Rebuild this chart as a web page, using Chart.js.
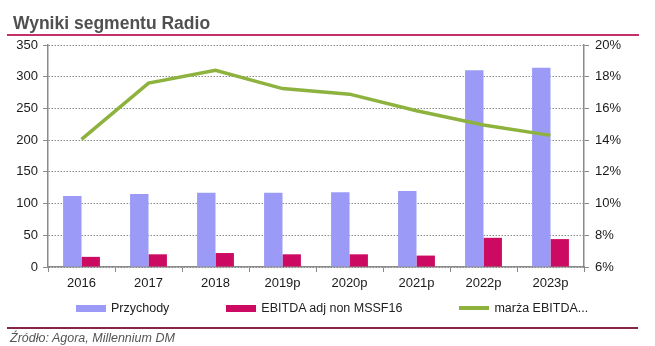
<!DOCTYPE html>
<html lang="pl">
<head>
<meta charset="utf-8">
<title>Wyniki segmentu Radio</title>
<script src="https://cdn.jsdelivr.net/npm/chart.js@4/dist/chart.umd.min.js"></script>
<style>
  html, body { margin: 0; padding: 0; background: #fff; }
  body { width: 655px; height: 346px; position: relative; overflow: hidden;
         font-family: 'Liberation Sans', Arial, sans-serif; }
  #chart { position: absolute; left: 0; top: 0; }
  .title { position: absolute; left: 13px; top: 15px; font-size: 17.5px; line-height: 17.5px;
           font-weight: bold; color: #505050; white-space: nowrap; }
  .rule-top { position: absolute; left: 7px; top: 34px; width: 632px; height: 2px; background: #c4306a; }
  .rule-bottom { position: absolute; left: 7px; top: 327px; width: 631px; height: 1.5px; background: #8a2446; }
  .source { position: absolute; left: 10px; top: 331px; font-size: 12.5px; line-height: 14px;
            font-style: italic; color: #555; white-space: nowrap; }
  #legend { position: absolute; left: 76px; top: 301px; height: 14px; display: flex; align-items: center;
            font-size: 12.5px; color: #222; white-space: nowrap; }
  .item { display: flex; align-items: center; margin-right: 57px; }
  .swatch { width: 30px; margin-right: 5px; }
</style>
</head>
<body>
<canvas id="chart" width="655" height="346"></canvas>
<div class="title">Wyniki segmentu Radio</div>
<div class="rule-top"></div>
<div id="legend"></div>
<div class="rule-bottom"></div>
<div class="source">Źródło: Agora, Millennium DM</div>
<script>
// Years (p = forecast)
const categories = ['2016', '2017', '2018', '2019p', '2020p', '2021p', '2022p', '2023p'];

// Revenue and EBITDA, PLN m (left axis)
const revenue = [112, 115, 117, 117, 118, 120, 310, 314];
const ebitdaAdj = [16, 20, 22, 20, 20, 18, 46, 44];

// EBITDA margin, % (right axis)
const ebitdaMargin = [14.05, 17.6, 18.4, 17.25, 16.9, 15.85, 14.95, 14.3];

// Axis tick labels
const leftTicks = [0, 50, 100, 150, 200, 250, 300, 350];
const rightTicks = [6, 8, 10, 12, 14, 16, 18, 20];

const seriesNames = ['Przychody', 'EBITDA adj non MSSF16', 'marża EBITDA...'];
const colors = { revenue: '#9b9bf7', ebitda: '#cc0a61', margin: '#8db23e' };

Chart.defaults.font.family = "'Liberation Sans', Arial, sans-serif";
Chart.defaults.font.size = 13;
Chart.defaults.color = '#1a1a1a';

const fixWidth = w => scale => { scale.width = w; };
const axisGrey = '#8a8a8a';

const chart = new Chart(document.getElementById('chart'), {
  data: {
    labels: categories,
    datasets: [
      { type: 'bar', label: seriesNames[0], data: revenue, backgroundColor: colors.revenue,
        yAxisID: 'y', order: 1, categoryPercentage: 0.55, barPercentage: 1 },
      { type: 'bar', label: seriesNames[1], data: ebitdaAdj, backgroundColor: colors.ebitda,
        yAxisID: 'y', order: 1, categoryPercentage: 0.55, barPercentage: 1 },
      { type: 'line', label: seriesNames[2], data: ebitdaMargin, borderColor: colors.margin,
        backgroundColor: colors.margin, borderWidth: 3.5, pointRadius: 0, tension: 0,
        yAxisID: 'y1', order: 0 }
    ]
  },
  options: {
    responsive: false,
    animation: false,
    layout: { padding: { left: 8, right: 31, top: 45, bottom: 49 } },
    plugins: { legend: { display: false }, tooltip: { enabled: false } },
    scales: {
      x: {
        offset: true,
        grid: { display: true, drawOnChartArea: false, offset: true, tickLength: 5,
                tickColor: axisGrey, tickWidth: 1 },
        border: { color: axisGrey, width: 1.5 },
        ticks: { padding: 4, maxRotation: 0 },
        afterFit: scale => { scale.height = 30; }
      },
      y: {
        position: 'left',
        min: leftTicks[0], max: leftTicks[leftTicks.length - 1],
        afterBuildTicks: scale => { scale.ticks = leftTicks.map(v => ({ value: v })); },
        grid: { color: '#8c8c8c', lineWidth: 1, tickLength: 5, tickColor: axisGrey },
        border: { color: axisGrey, width: 1.5, dash: [1.5, 1.5] },
        ticks: { padding: 5 },
        afterFit: fixWidth(40)
      },
      y1: {
        position: 'right',
        min: rightTicks[0], max: rightTicks[rightTicks.length - 1],
        afterBuildTicks: scale => { scale.ticks = rightTicks.map(v => ({ value: v })); },
        grid: { drawOnChartArea: false, tickLength: 5, tickColor: axisGrey },
        border: { color: axisGrey, width: 1.5 },
        ticks: { padding: 6, callback: v => v + '%' },
        afterFit: fixWidth(40)
      }
    }
  }
});

// Legend built from the chart's own datasets
const legend = document.getElementById('legend');
chart.data.datasets.forEach(ds => {
  const item = document.createElement('div');
  item.className = 'item';
  const sw = document.createElement('span');
  sw.className = 'swatch';
  if (ds.type === 'line') {
    sw.style.height = '4px';
    sw.style.background = ds.borderColor;
  } else {
    sw.style.height = '7px';
    sw.style.background = ds.backgroundColor;
  }
  const txt = document.createElement('span');
  txt.textContent = ds.label;
  item.appendChild(sw);
  item.appendChild(txt);
  legend.appendChild(item);
});
</script>
</body>
</html>
